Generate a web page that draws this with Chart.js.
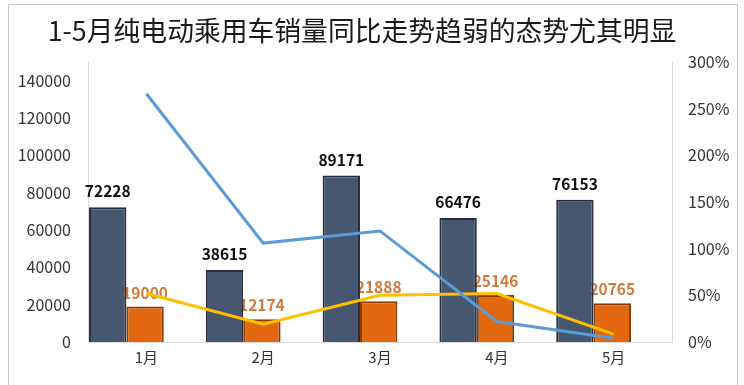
<!DOCTYPE html>
<html>
<head>
<meta charset="utf-8">
<script src="https://cdn.jsdelivr.net/npm/chart.js@4/dist/chart.umd.min.js"></script>
<style>
	html, body { margin: 0; padding: 0; background: #fff; }
	#wrap { position: relative; width: 744px; height: 385px; overflow: hidden; }
	#frame { position: absolute; left: 8px; top: 4px; width: 728px; height: 420px; border: 1px solid #c9c9c9; pointer-events: none; }
	#title {
		position: absolute; left: 0; top: 12px; width: 724px; text-align: center;
		font-family: 'Noto Sans CJK SC', 'Noto Sans', sans-serif; font-size: 26.8px; line-height: 36px;
		color: #1a1a1a; white-space: nowrap;
	}
</style>
</head>
<body>
<div id="wrap">
	<canvas id="myChart" width="744" height="385"></canvas>
	<div id="title">1-5月纯电动乘用车销量同比走势趋弱的态势尤其明显</div>
	<div id="frame"></div>
</div>
<script>
const months = ["1月", "2月", "3月", "4月", "5月"];
const evSales = [72228, 38615, 89171, 66476, 76153];
const subSales = [19000, 12174, 21888, 25146, 20765];
const evGrowth = [266, 106, 119, 22, 4];
const subGrowth = [52, 19, 50, 52, 8.5];
const leftTicks = [0, 20000, 40000, 60000, 80000, 100000, 120000, 140000];
const leftMax = 150000;
const rightTicks = [0, 50, 100, 150, 200, 250, 300];

const FONT = "'Noto Sans CJK SC', 'Noto Sans', sans-serif";
const BAR_SHIFT = -20;

// columns sit a little left of the category centre, like the 3D look of the original
const barLabels = {
	id: "barLabels",
	beforeDatasetDraw(chart, args) {
		if (chart.data.datasets[args.index].type !== "bar") return;
		chart.ctx.save();
		chart.ctx.translate(BAR_SHIFT, 0);
	},
	afterDatasetDraw(chart, args) {
		const ds = chart.data.datasets[args.index];
		if (ds.type !== "bar") return;
		const ctx = chart.ctx;
		ctx.font = "bold 15.5px " + FONT;
		ctx.textAlign = "center";
		ctx.textBaseline = "bottom";
		ctx.fillStyle = ds.labelColor;
		args.meta.data.forEach((bar, i) => {
			ctx.fillText(ds.data[i], bar.x, bar.y - ds.labelGap);
		});
		ctx.restore();
	},
};

new Chart(document.getElementById("myChart").getContext("2d"), {
	data: {
		labels: months,
		datasets: [
			{
				type: "line",
				label: "纯电动乘用车同比增速",
				data: evGrowth,
				yAxisID: "y1",
				borderColor: "#5b9bd5",
				borderWidth: 3,
				pointRadius: 0,
				tension: 0,
				order: 0,
			},
			{
				type: "line",
				label: "同比增速",
				data: subGrowth,
				yAxisID: "y1",
				borderColor: "#ffc000",
				borderWidth: 3,
				pointRadius: 0,
				tension: 0,
				order: 0,
			},
			{
				type: "bar",
				label: "纯电动乘用车销量",
				data: evSales,
				yAxisID: "y",
				backgroundColor: "#475770",
				borderColor: "#263041",
				borderWidth: 2,
				labelColor: "#111",
				labelGap: 8,
				order: 1,
			},
			{
				type: "bar",
				label: "销量",
				data: subSales,
				yAxisID: "y",
				backgroundColor: "#e2680f",
				borderColor: "#8a3c08",
				borderWidth: 2,
				labelColor: "#d07a3c",
				labelGap: 6,
				order: 1,
			},
		],
	},
	options: {
		responsive: false,
		animation: false,
		events: [],
		layout: { padding: { top: 62 } },
		datasets: {
			bar: { barPercentage: 1, categoryPercentage: 0.64 },
		},
		scales: {
			x: {
				afterFit: (scale) => { scale.height = 43; },
				grid: { display: false, drawTicks: false },
				border: { color: "#d9d9d9" },
				ticks: { color: "#333", font: { family: FONT, size: 15 }, padding: 6 },
			},
			y: {
				position: "left",
				min: 0,
				max: leftMax,
				afterBuildTicks: (scale) => {
					scale.ticks = leftTicks.map((v) => ({ value: v }));
				},
				afterFit: (scale) => { scale.width = 88; },
				grid: { display: false, drawTicks: false },
				border: { color: "#d9d9d9" },
				ticks: { color: "#333", font: { family: FONT, size: 16 }, padding: 17, callback: (v) => String(v) },
			},
			y1: {
				position: "right",
				min: 0,
				max: 300,
				afterBuildTicks: (scale) => {
					scale.ticks = rightTicks.map((v) => ({ value: v }));
				},
				afterFit: (scale) => { scale.width = 72; },
				grid: { display: false, drawTicks: false },
				border: { color: "#d9d9d9" },
				ticks: {
					color: "#333",
					font: { family: FONT, size: 16 },
					padding: 16,
					callback: (v) => v + "%",
				},
			},
		},
		plugins: {
			legend: { display: false },
			tooltip: { enabled: false },
			title: { display: false },
		},
	},
	plugins: [barLabels],
});
</script>
</body>
</html>
